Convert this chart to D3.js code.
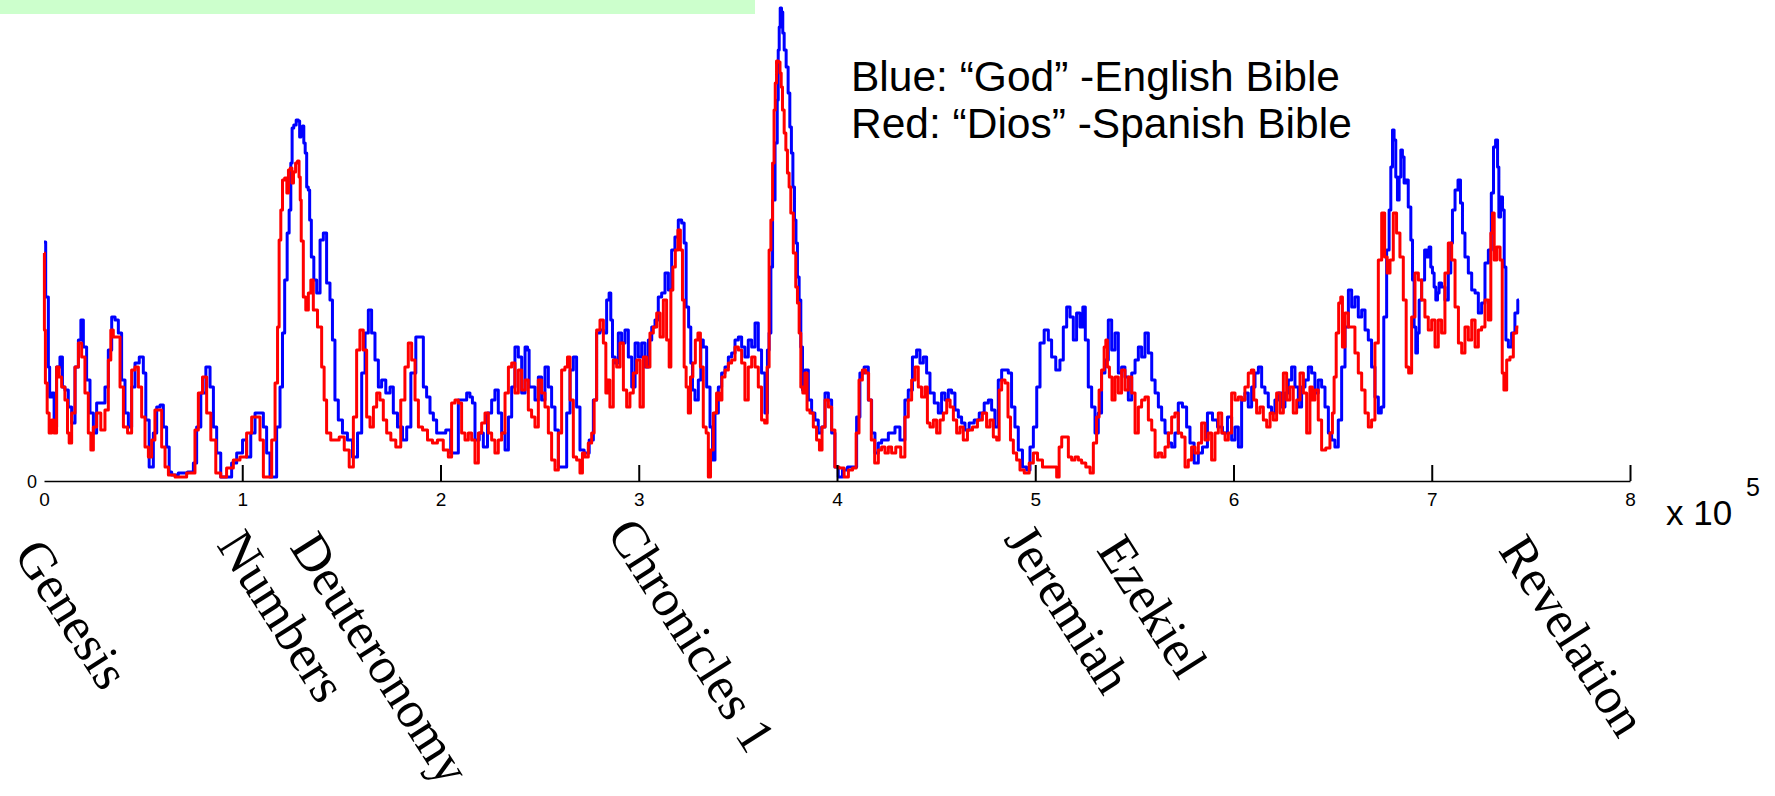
<!DOCTYPE html>
<html>
<head>
<meta charset="utf-8">
<script src="https://cdn.jsdelivr.net/npm/d3@7"></script>
<style>
  html, body { margin: 0; padding: 0; background: #ffffff; }
  svg { display: block; }
</style>
</head>
<body>
<svg id="chart" width="1775" height="796"></svg>
<script>
// Word position (thousands of words) and local frequency of the word
const blueGod = [[0,23.9],[1.7,18.4],[2.7,11.4],[3.0,8.4],[4.7,8.8],[5.5,5.4],[7.2,11.4],[8.9,12.4],[9.7,9.4],[11.4,9.1],[13.1,7.4],[14.8,5.8],[16.5,11.4],[18.2,14.1],[19.0,16.1],[20.7,13.4],[22.3,10.1],[24.1,6.8],[25.7,4.8],[27.4,7.8],[29.9,7.8],[31.6,9.4],[33.3,13.1],[35.0,16.4],[36.7,16.1],[38.3,14.8],[40.0,10.1],[41.7,6.8],[43.4,5.4],[45.0,9.4],[46.8,11.8],[49.3,12.4],[50.9,10.8],[51.8,6.1],[54.3,1.4],[56.0,4.8],[57.7,7.4],[59.4,7.6],[61.0,5.4],[62.7,3.4],[63.6,0.9],[65.2,0.6],[70.3,0.8],[74.5,0.9],[76.2,1.8],[77.8,5.4],[80.4,8.8],[82.9,11.4],[84.6,9.4],[86.3,5.4],[87.9,2.8],[90.4,0.4],[93.8,0.4],[95.5,1.8],[98.9,2.8],[101.4,4.1],[103.0,2.4],[105.6,4.8],[107.3,6.8],[109.8,6.8],[111.5,5.4],[113.1,2.8],[114.9,0.4],[116.5,0.4],[118.2,5.4],[119.9,9.4],[120.7,14.8],[122.1,20.1],[123.2,24.8],[124.1,27.1],[124.9,31.8],[125.4,35.3],[126.6,35.6],[127.8,36.1],[128.8,36.0],[129.1,34.4],[130.0,35.3],[130.8,35.5],[131.3,33.8],[132.2,32.8],[132.8,29.4],[133.8,29.1],[134.2,26.1],[135.5,22.4],[136.7,20.1],[138.4,18.8],[140.1,24.1],[141.7,24.8],[143.4,19.8],[145.1,18.1],[145.9,14.1],[147.6,8.1],[149.3,6.1],[151.8,4.8],[154.3,4.1],[156.9,2.4],[159.4,4.8],[161.1,10.8],[162.8,14.8],[164.4,17.1],[166.1,14.8],[167.8,12.1],[169.5,9.4],[171.1,10.1],[173.7,8.8],[175.4,9.4],[177.0,6.8],[179.6,5.4],[182.1,4.1],[183.8,5.4],[186.3,10.8],[188.8,14.4],[190.5,14.4],[192.2,9.4],[193.8,8.4],[195.6,6.8],[197.2,6.1],[198.9,4.8],[201.4,4.8],[203.9,5.1],
[206.4,2.8],[208.2,2.8],[209.8,8.1],[212.4,8.1],[214.0,8.8],[215.7,8.4],[216.5,7.8],[218.3,4.1],[220.8,4.8],[222.4,3.4],[225.0,6.8],[226.6,8.1],[228.3,9.1],[230.0,6.8],[231.7,4.8],[233.4,3.1],[235.1,6.4],[236.7,9.4],[238.4,13.4],[240.1,12.4],[241.8,8.8],[243.5,13.4],[244.3,13.1],[245.1,9.4],[246.8,9.4],[248.5,8.1],[250.2,10.4],[251.8,8.1],[253.6,11.4],[255.2,9.4],[256.9,7.4],[258.6,5.1],[260.3,1.4],[262.8,1.4],[264.5,6.8],[266.2,11.1],[267.8,12.4],[269.5,7.4],[271.2,3.1],[273.7,2.8],[276.3,4.1],[277.9,8.1],[279.6,14.8],[281.3,15.1],[283.0,14.8],[284.6,18.1],[285.5,18.8],[286.3,16.1],[287.2,12.4],[288.9,11.8],[290.5,14.8],[292.2,13.8],[293.9,15.1],[295.6,12.4],[297.3,9.4],[299.0,13.8],[300.6,12.4],[302.3,13.8],[304.0,11.4],[305.7,14.1],[307.4,15.4],[309.0,16.1],[310.7,18.4],[312.4,18.8],[314.1,20.8],[315.8,19.1],[317.4,23.1],[319.1,24.4],[320.8,26.1],[322.5,25.8],[323.3,23.8],[324.5,17.4],[325.8,15.4],[326.7,11.8],[327.5,9.1],[329.2,8.1],[330.9,10.1],[331.7,14.1],[333.4,13.4],[335.1,9.4],[336.8,5.4],[337.6,2.1],[339.3,6.8],[341.0,9.4],[342.6,10.8],[344.4,11.4],[346.0,12.4],[347.7,12.8],[349.4,14.1],[351.1,14.4],[352.7,13.4],[354.4,12.4],[356.1,14.1],[357.8,13.4],[359.5,15.8],[361.1,13.1],[362.8,10.8],[364.5,6.8],[365.3,13.1],[366.2,14.8],[367.1,21.4],[367.9,28.1],[369.6,33.8],[370.1,38.1],[370.6,43.1],[371.1,45.4],[371.6,47.3],[372.4,46.9],[372.9,44.8],[373.8,43.1],[374.9,41.4],[375.8,38.8],[376.6,35.4],[377.4,32.8],[378.1,29.4],[379.0,26.1],[379.6,23.8],[380.5,20.4],[381.3,18.1],[382.2,13.4],[383.0,9.1],[384.7,11.1],[386.4,8.1],[388.0,6.8],[389.7,6.1],[391.4,4.8],[393.1,5.4],[394.8,8.8],[396.5,8.1],[398.1,4.8],[399.8,1.4],[401.5,0.4],[404.0,1.1],[406.6,1.4],[409.1,1.4],[410.7,6.4],[412.4,10.8],[415.0,11.4],[416.6,8.1],[418.3,4.8],[420.0,2.8],[421.7,3.8],[423.3,4.1],[425.1,4.1],[426.7,4.8],[428.4,4.8],[430.1,5.4],
[433.4,4.1],[435.1,8.1],[436.8,9.1],[439.3,12.4],[441.0,13.1],[442.7,11.8],[444.4,12.4],[446.0,10.8],[447.8,8.8],[450.3,7.8],[451.9,6.8],[453.6,8.8],[455.3,8.1],[457.0,9.1],[458.6,8.8],[460.4,7.1],[462.0,6.4],[463.7,5.8],[465.4,5.1],[467.9,5.8],[470.5,6.1],[473.0,6.8],[475.5,7.8],[477.2,8.1],[478.8,7.1],[480.5,5.4],[482.2,10.1],[483.9,11.1],[485.6,11.1],[487.2,10.8],[488.9,7.4],[490.6,5.4],[492.3,3.1],[494.8,1.4],[496.5,1.1],[498.2,3.4],[499.9,5.4],[501.6,9.4],[503.2,13.8],[505.8,15.1],[507.4,14.1],[509.1,12.4],[511.6,11.1],[513.3,12.1],[515.0,15.4],[516.7,17.4],[518.4,16.4],[520.0,14.1],[521.7,16.8],[523.4,15.4],[524.6,17.4],[525.9,14.1],[527.6,9.4],[529.3,7.4],[531.0,4.8],[532.6,6.8],[534.3,10.8],[536.0,12.1],[537.7,16.1],[539.4,13.1],[541.1,14.8],[542.7,10.8],[544.4,11.4],[546.1,10.4],[547.8,8.1],[549.5,10.8],[551.2,12.1],[552.8,13.4],[554.5,12.4],[556.2,14.8],[557.9,12.8],[559.6,10.1],[561.3,8.8],[562.9,7.4],[564.6,6.1],[566.3,4.8],[568.0,3.8],[569.6,3.4],[571.3,4.8],[573.0,7.8],[575.5,7.4],[577.2,5.4],[578.9,3.8],[581.4,1.8],[583.1,2.8],[585.6,3.4],[588.1,6.8],[590.7,6.1],[593.2,5.4],[595.7,4.8],[598.2,6.4],[599.9,4.1],[601.6,5.4],[603.3,3.4],[604.9,8.1],[606.6,8.8],[608.3,7.4],[610.0,9.4],[611.7,10.8],[613.4,11.4],[615.0,9.4],[616.7,8.8],[618.4,7.4],[620.0,6.8],[621.8,8.1],[623.4,8.8],[625.1,7.4],[626.8,8.8],[628.5,10.1],[630.1,11.4],[631.9,9.4],[633.5,7.4],[635.2,9.4],[636.9,10.1],[638.6,11.4],[640.2,10.8],[641.9,8.8],[643.6,10.1],[645.3,9.4],[647.0,7.4],[648.7,4.8],[650.3,4.1],[652.0,3.4],[653.7,6.1],[655.4,11.4],[657.1,15.4],
[658.8,19.1],[660.4,17.4],[662.1,18.4],[663.8,16.4],[665.5,17.1],[667.2,15.1],[668.8,14.1],[670.5,11.4],[672.2,8.4],[673.9,6.8],[675.2,7.4],[676.4,16.4],[678.1,23.1],[678.9,27.1],[679.8,31.4],[680.6,35.1],[681.4,34.1],[682.3,30.4],[683.1,28.1],[684.0,30.4],[684.8,33.1],[685.6,32.4],[686.5,29.8],[687.3,30.1],[689.0,27.4],[689.9,24.1],[690.7,20.1],[691.5,15.4],[692.4,12.8],[693.2,14.8],[694.1,18.1],[695.7,20.1],[697.1,23.1],[698.2,22.4],[699.1,23.4],[699.9,21.4],[700.8,20.8],[701.6,19.4],[702.5,18.1],[703.3,18.8],[704.1,19.8],[705.8,19.4],[707.5,18.1],[709.2,20.8],[710.0,23.8],[710.9,27.1],[712.6,29.1],[713.9,30.1],[715.1,27.8],[715.9,24.8],[717.6,22.4],[719.3,20.8],[721.0,19.1],[722.7,18.8],[724.3,16.8],[726.0,17.8],[727.7,21.8],[729.4,23.1],[730.7,28.8],[731.6,33.4],[732.8,34.1],[733.6,31.4],[734.1,26.4],[735.3,28.4],[736.1,27.1],[737.0,21.4],[737.8,14.1],[739.5,13.4],[741.1,14.8],[742.8,16.8],[744.0,18.1]];

const redDios = [[0,22.8],[0.4,15.1],[1.0,9.8],[2.2,6.8],[3.0,4.8],[4.7,6.1],[5.5,4.8],[7.2,11.4],[8.1,10.4],[9.7,9.4],[11.4,8.1],[12.3,4.8],[13.1,3.8],[14.8,6.8],[16.5,11.4],[18.2,13.8],[19.8,12.4],[21.5,8.8],[23.2,4.8],[24.1,3.1],[25.7,5.4],[27.4,6.8],[29.9,5.1],[31.6,7.1],[33.3,12.1],[34.1,15.1],[35.8,14.4],[37.5,14.4],[39.2,9.4],[40.9,5.4],[43.4,4.8],[45.0,11.1],[46.8,11.4],[48.4,9.4],[50.1,6.4],[51.8,3.4],[53.5,2.4],[55.1,4.1],[56.8,7.1],[58.5,7.1],[60.2,3.4],[61.9,1.4],[63.6,0.6],[68.6,0.4],[75.3,0.8],[77.0,5.1],[78.7,8.8],[81.2,10.4],[82.9,6.8],[85.4,4.1],[87.9,0.8],[90.4,0.4],[93.8,1.3],[97.2,2.1],[100.5,2.4],[103.9,4.8],[105.6,6.4],[108.1,6.4],[109.8,4.1],[111.5,0.4],[114.0,0.4],[115.7,4.1],[117.4,9.8],[118.2,15.4],[119.0,24.1],[119.9,27.1],[120.7,30.1],[122.1,30.3],[122.9,28.8],[123.7,31.1],[124.7,31.3],[125.4,29.8],[126.3,30.9],[127.5,31.8],[128.3,32.0],[129.0,30.4],[129.5,28.1],[130.0,24.0],[131.6,18.4],[132.5,17.1],[134.2,18.8],[135.0,20.1],[136.7,17.1],[139.2,15.4],[140.9,11.4],[141.7,8.1],[143.4,4.8],[145.9,4.1],[147.6,4.1],[150.2,4.4],[152.7,3.1],[155.2,1.4],[156.9,6.4],[158.5,13.1],[160.2,15.1],[161.9,13.1],[163.6,6.4],[165.3,5.4],[167.0,7.4],[168.6,8.8],[170.3,8.1],[172.0,6.1],[173.7,4.8],[176.2,4.1],[178.7,3.4],[181.2,8.1],[182.9,11.4],[184.6,13.8],[186.3,12.1],[188.0,8.1],[189.7,5.4],[192.2,5.1],[194.7,4.1],[197.2,3.8],[199.7,4.1],[203.1,3.1],
[204.8,2.4],[206.4,7.8],[208.2,8.1],[209.8,7.8],[211.5,4.8],[213.2,4.1],[214.9,4.8],[216.5,4.1],[218.3,1.8],[219.9,4.8],[221.6,5.8],[223.3,6.8],[225.0,4.8],[226.6,4.1],[228.3,2.8],[230.0,4.1],[231.7,4.8],[233.4,8.8],[235.1,11.4],[236.7,11.8],[238.4,8.8],[240.1,11.1],[241.8,9.1],[243.5,10.1],[245.1,7.1],[246.8,6.4],[248.5,5.4],[250.2,10.1],[251.8,8.8],[253.6,7.4],[255.2,4.8],[256.9,2.1],[258.6,1.1],[260.3,4.8],[261.9,11.1],[263.6,11.4],[264.5,12.4],[266.2,8.1],[267.8,2.4],[269.5,2.1],[271.2,0.8],[272.0,2.8],[273.7,2.4],[275.4,3.8],[277.1,4.8],[277.9,8.1],[279.6,15.1],[281.3,16.1],[283.0,13.8],[283.8,8.8],[284.6,10.1],[286.3,7.4],[288.0,12.1],[289.7,11.4],[291.4,13.8],[293.1,9.1],[294.7,7.4],[296.4,8.8],[298.1,10.8],[299.8,12.1],[301.5,7.4],[303.1,12.4],[304.8,11.4],[306.5,14.8],[308.2,15.4],[309.9,16.8],[311.6,14.4],[313.2,18.1],[314.9,14.1],[315.8,11.4],[316.6,19.1],[317.8,21.4],[319.1,23.1],[320.4,25.1],[321.6,23.1],[322.5,18.1],[323.3,11.4],[324.5,9.4],[325.5,6.8],[326.7,10.4],[327.9,11.8],[329.2,14.1],[330.5,14.8],[331.7,11.4],[333.4,5.4],[334.6,4.8],[335.6,0.4],[336.8,3.1],[338.4,6.8],[340.1,8.8],[341.3,8.1],[342.6,10.4],[344.4,11.1],[346.0,11.8],[347.7,12.1],[349.4,13.4],[351.1,13.1],[352.7,11.8],[354.4,8.1],[356.1,11.4],[357.8,12.4],[359.5,11.4],[361.1,9.4],[362.8,6.1],[364.2,5.8],[365.3,11.4],[366.2,23.1],[367.1,26.1],[367.9,31.8],[368.6,37.1],[369.1,39.8],[369.9,42.0],[370.9,41.9],[371.6,40.8],[372.1,39.4],[372.9,37.1],[373.8,34.8],[374.6,33.1],[375.4,30.8],[376.3,29.4],[377.1,26.8],[378.8,22.8],[379.6,19.4],[380.5,17.8],[381.3,14.8],[382.2,9.4],[383.3,8.8],[384.3,10.8],[385.5,7.1],[387.2,6.8],[388.9,5.4],[390.5,4.1],[391.8,3.1],[393.1,5.4],[394.8,8.1],[396.5,7.4],[398.1,5.1],[399.8,1.4],[402.3,1.3],[404.9,0.4],[406.6,1.1],[409.1,1.3],[410.2,4.8],[412.0,10.1],[413.6,11.1],[415.3,10.8],[416.6,8.1],[418.0,4.1],[420.0,1.8],[421.7,3.1],[423.3,3.4],[425.1,2.8],[426.7,3.4],[428.4,2.8],[430.9,3.4],
[433.4,2.4],[435.1,6.4],[436.8,8.1],[438.5,10.1],[440.2,11.4],[441.8,9.4],[443.5,8.4],[445.2,9.4],[446.0,5.8],[447.8,5.4],[449.4,6.1],[451.1,4.8],[452.8,6.1],[454.5,6.8],[456.2,8.1],[457.9,7.4],[459.5,6.1],[461.2,4.8],[462.9,5.4],[464.5,4.1],[467.1,5.1],[469.6,5.4],[472.1,6.1],[474.6,6.8],[476.3,5.4],[478.0,6.1],[479.7,4.4],[481.4,4.1],[482.2,9.1],[483.9,10.1],[485.6,9.8],[486.9,6.4],[488.1,4.1],[489.8,2.8],[491.4,2.1],[493.2,1.1],[495.7,0.8],[498.2,1.8],[499.9,2.8],[502.4,2.1],[504.9,1.4],[507.4,1.4],[510.0,1.4],[511.6,0.4],[512.5,3.4],[514.2,4.4],[515.9,4.4],[517.5,2.4],[519.2,2.1],[520.9,2.4],[522.6,2.1],[524.2,1.8],[526.8,1.4],[528.5,0.8],[530.1,3.8],[531.8,6.4],[532.6,9.1],[534.3,11.1],[535.2,13.4],[536.0,14.1],[536.8,11.4],[538.0,10.4],[539.4,8.1],[541.1,10.4],[542.7,8.8],[544.4,11.1],[546.1,9.1],[547.8,10.4],[549.5,8.8],[551.2,4.8],[552.8,7.4],[554.5,8.1],[556.2,8.4],[557.9,6.1],[559.6,5.1],[561.3,2.4],[562.9,2.8],[564.6,2.4],[566.3,3.4],[568.0,4.8],[569.6,6.4],[571.3,6.8],[573.0,4.8],[574.7,4.4],[576.4,1.4],[578.0,2.1],[579.7,3.4],[581.4,2.8],[583.1,3.8],[584.7,5.8],[586.5,4.1],[588.1,4.8],[589.8,2.1],[591.5,4.8],[593.2,6.8],[594.9,4.8],[596.6,4.1],[598.2,4.8],[599.9,8.8],[601.6,8.1],[603.3,8.4],[604.9,8.1],[606.6,9.4],[608.3,10.8],[609.7,11.1],[610.8,8.1],[612.5,6.8],[614.2,7.4],[615.9,6.1],[617.6,5.4],[619.3,6.8],[620.9,6.1],[622.6,8.8],[624.3,6.8],[626.0,10.8],[627.6,8.1],[629.3,9.4],[631.0,6.8],[632.7,8.1],[634.4,10.8],[636.1,8.8],[637.7,4.8],[639.4,9.4],
[640.2,8.1],[641.9,9.1],[643.6,6.1],[645.3,3.1],[647.8,3.3],[649.5,4.8],[650.3,6.8],[651.2,10.4],[652.4,14.8],[653.7,17.8],[654.5,18.4],[655.4,13.4],[657.1,16.8],[658.8,15.4],[660.4,15.4],[662.1,12.8],[663.8,10.8],[665.5,9.1],[667.2,6.8],[668.8,5.4],[670.5,6.1],[672.2,13.8],[673.9,22.1],[675.6,26.8],[676.9,22.4],[678.1,20.8],[679.8,22.1],[681.4,26.8],[683.1,24.8],[684.8,22.4],[686.5,18.1],[687.7,11.4],[689.0,10.8],[690.7,16.4],[692.4,20.8],[694.1,20.1],[695.7,18.1],[697.4,16.4],[699.1,15.1],[700.8,16.1],[702.5,13.4],[704.1,16.1],[705.8,14.8],[707.5,20.8],[709.2,23.8],[710.9,22.1],[712.6,17.4],[714.3,13.8],[715.9,12.8],[717.6,15.4],[719.3,14.1],[721.0,16.1],[722.7,13.4],[724.3,15.1],[726.0,15.4],[727.7,18.1],[729.4,16.1],[730.2,24.8],[731.1,26.8],[731.9,22.1],[733.6,23.4],[735.3,22.1],[735.8,10.8],[737.0,9.1],[738.6,12.1],[740.3,12.4],[742.0,14.8],[743.7,15.4]];

const xTickValues = [0, 100, 200, 300, 400, 500, 600, 700, 800];
const xTickLabels = ["0", "1", "2", "3", "4", "5", "6", "7", "8"];
const bookNames = ["Genesis", "Numbers", "Deuteronomy", "Chronicles 1", "Jeremiah", "Ezekiel", "Revelation"];
const bookPositions = [-15.6, 86.8, 123.6, 283.5, 483.7, 530.5, 733.2];
const legendLines = ["Blue: \u201CGod\u201D -English Bible", "Red: \u201CDios\u201D -Spanish Bible"];

const svg = d3.select("#chart");
const axisY = 481;

const x = d3.scaleLinear().domain([0, 800]).range([44, 1630]);
const y = d3.scaleLinear().domain([0, 48.1]).range([axisY, 0]);

// layout: baseline of each rotated book label
const bookBaseline = [554, 545, 547, 533, 539, 550, 550];

// green banner at top
svg.append("rect").attr("x", 0).attr("y", 0).attr("width", 755).attr("height", 14).attr("fill", "#ccffcc");

const line = d3.line().x(d => x(d[0])).y(d => y(d[1])).curve(d3.curveStep);

svg.append("path").datum(blueGod).attr("d", line)
  .attr("fill", "none").attr("stroke", "#0000ff").attr("stroke-width", 3).attr("stroke-linejoin", "round");
svg.append("path").datum(redDios).attr("d", line)
  .attr("fill", "none").attr("stroke", "#ff0000").attr("stroke-width", 3).attr("stroke-linejoin", "round");

// x axis
const axis = d3.axisBottom(x)
  .tickValues(xTickValues)
  .tickFormat((d, i) => xTickLabels[i])
  .tickSizeInner(-16).tickSizeOuter(0).tickPadding(12);
const gAxis = svg.append("g").attr("transform", `translate(0,${axisY})`).call(axis);
gAxis.select(".domain").attr("stroke", "#000").attr("stroke-width", 1.4);
gAxis.selectAll(".tick line").attr("stroke", "#000").attr("stroke-width", 2);
gAxis.selectAll(".tick").filter(d => d === 0).select("line").remove();
gAxis.selectAll(".tick text").attr("fill", "#000")
  .style("font-family", "'Liberation Sans', Arial, sans-serif").style("font-size", "19px");

// y label 0
svg.append("text").attr("x", 32).attr("y", axisY + 6.5).attr("text-anchor", "middle")
  .style("font-family", "'Liberation Sans', Arial, sans-serif").style("font-size", "18px").text("0");

// x 10^5
svg.append("text").attr("x", 1666).attr("y", 525)
  .style("font-family", "'Liberation Sans', Arial, sans-serif").style("font-size", "35px").text("x 10");
svg.append("text").attr("x", 1746).attr("y", 496)
  .style("font-family", "'Liberation Sans', Arial, sans-serif").style("font-size", "25px").text("5");

// legend
svg.selectAll(".legend").data(legendLines).enter().append("text")
  .attr("class", "legend")
  .attr("x", 851).attr("y", (d, i) => 91 + i * 47)
  .style("font-family", "'Liberation Sans', Arial, sans-serif").style("font-size", "42.5px")
  .attr("fill", "#000").text(d => d);

// book labels
svg.selectAll(".book").data(bookNames).enter().append("text")
  .attr("class", "book")
  .attr("transform", (d, i) => `translate(${x(bookPositions[i])},${bookBaseline[i]}) rotate(57.5)`)
  .style("font-family", "'Liberation Serif', 'Times New Roman', serif").style("font-size", "52px")
  .attr("fill", "#000").text(d => d);
</script>
</body>
</html>
